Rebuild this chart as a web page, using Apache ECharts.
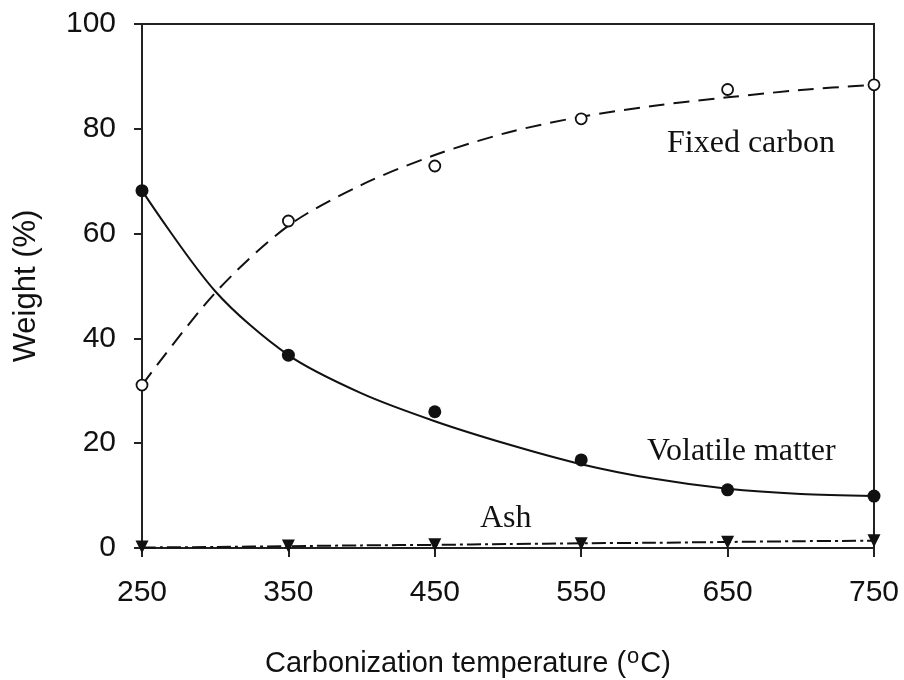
<!DOCTYPE html>
<html>
<head>
<meta charset="utf-8">
<script src="https://cdn.jsdelivr.net/npm/echarts@6/dist/echarts.min.js"></script>
<style>
html,body{margin:0;padding:0;background:#fff;}
#chart{width:904px;height:680px;}
</style>
</head>
<body>
<div id="chart"></div>
<script>
// Measured points
const temps = [250, 350, 450, 550, 650, 750];
const fixedCarbon = [31.1, 62.4, 72.9, 81.9, 87.5, 88.4];
const volatileMatter = [68.2, 36.8, 26.0, 16.8, 11.1, 9.9];
const ash = [0.2, 0.4, 0.6, 0.8, 1.1, 1.4];
// Fitted trend curves
const fitTemps = [250, 300, 350, 400, 450, 500, 550, 600, 650, 700, 750];
const fixedCarbonFit = [31.1, 48.7, 61.5, 69.3, 75.0, 79.3, 82.3, 84.4, 86.0, 87.4, 88.4];
const volatileFit = [68.2, 49.0, 36.8, 29.5, 24.2, 19.8, 16.0, 13.2, 11.3, 10.3, 9.9];
const ashFit = [0.1, 0.2, 0.35, 0.5, 0.6, 0.75, 0.9, 1.0, 1.15, 1.3, 1.4];
// Tick settings
const xTicks = { min: 250, max: 750, step: 100 };
const yTicks = { min: 0, max: 100, step: 20 };
const seriesLabels = ['Fixed carbon', 'Volatile matter', 'Ash'];

const pair = (xs, ys) => xs.map((x, i) => [x, ys[i]]);
const ink = '#111';
const sans = 'Liberation Sans, Arial, sans-serif';
const serif = 'Liberation Serif, Times New Roman, serif';

const chart = echarts.init(document.getElementById('chart'), null, { renderer: 'canvas' });
chart.setOption({
  animation: false,
  backgroundColor: '#fff',
  grid: { left: 142, right: 30, top: 24, bottom: 132, show: true, borderColor: '#222', borderWidth: 2,
          containLabel: false, outerBoundsMode: 'none' },
  xAxis: {
    type: 'value', min: xTicks.min, max: xTicks.max, interval: xTicks.step,
    name: 'Carbonization temperature ({sup|o}C)',
    nameLocation: 'middle', nameGap: 98,
    nameTextStyle: {
      fontFamily: sans, fontSize: 29, color: ink, padding: [0, 80, 0, 0],
      rich: { sup: { fontFamily: sans, fontSize: 22, color: ink, verticalAlign: 'top', padding: [0, 1, 14, 1] } }
    },
    axisLine: { show: true, lineStyle: { color: '#222', width: 2 } },
    axisTick: { show: true, inside: false, length: 9, lineStyle: { color: '#222', width: 2 } },
    axisLabel: { fontFamily: sans, fontSize: 30, color: ink, margin: 30 },
    splitLine: { show: false }
  },
  yAxis: {
    type: 'value', min: yTicks.min, max: yTicks.max, interval: yTicks.step,
    name: 'Weight (%)', nameLocation: 'middle', nameGap: 100, nameRotate: 90,
    nameTextStyle: { fontFamily: sans, fontSize: 31, color: ink },
    axisLine: { show: true, lineStyle: { color: '#222', width: 2 } },
    axisTick: { show: true, inside: false, length: 8, lineStyle: { color: '#222', width: 2 } },
    axisLabel: { fontFamily: sans, fontSize: 30, color: ink, margin: 26 },
    splitLine: { show: false }
  },
  series: [
    { name: seriesLabels[0] + ' fit', type: 'line', data: pair(fitTemps, fixedCarbonFit), smooth: 0.3, showSymbol: false, symbol: 'none',
      lineStyle: { color: ink, width: 2, type: [16, 9] }, z: 2 },
    { name: seriesLabels[1] + ' fit', type: 'line', data: pair(fitTemps, volatileFit), smooth: 0.3, showSymbol: false, symbol: 'none',
      lineStyle: { color: ink, width: 2, type: 'solid' }, z: 2 },
    { name: seriesLabels[2] + ' fit', type: 'line', data: pair(fitTemps, ashFit), smooth: 0.3, showSymbol: false, symbol: 'none',
      lineStyle: { color: ink, width: 2, type: [14, 4, 3, 4] }, z: 2 },
    { name: seriesLabels[0], type: 'scatter', data: pair(temps, fixedCarbon), symbol: 'circle', symbolSize: 11, clip: false,
      itemStyle: { color: '#fff', borderColor: ink, borderWidth: 1.8, opacity: 1 }, z: 5 },
    { name: seriesLabels[1], type: 'scatter', data: pair(temps, volatileMatter), symbol: 'circle', symbolSize: 13, clip: false,
      itemStyle: { color: ink, opacity: 1 }, z: 5 },
    { name: seriesLabels[2], type: 'scatter', data: pair(temps, ash), symbol: 'triangle', symbolRotate: 180, symbolSize: [13, 13], clip: false,
      itemStyle: { color: ink, opacity: 1 }, z: 5 }
  ],
  graphic: [
    { type: 'text', left: 667, top: 128, style: { text: seriesLabels[0], font: '32px ' + serif, fill: ink } },
    { type: 'text', left: 647, top: 436, style: { text: seriesLabels[1], font: '32px ' + serif, fill: ink } },
    { type: 'text', left: 480, top: 503, style: { text: seriesLabels[2], font: '32px ' + serif, fill: ink } }
  ]
});
</script>
</body>
</html>
